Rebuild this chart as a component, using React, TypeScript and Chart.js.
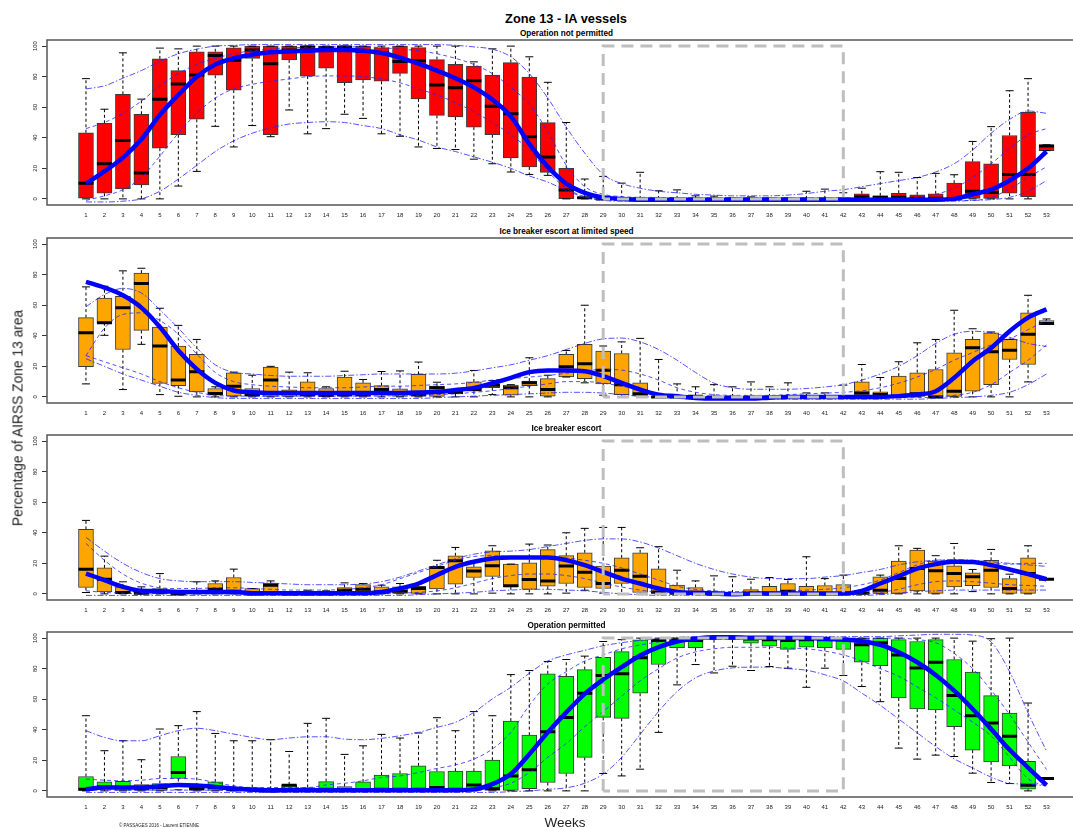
import React, { useEffect, useRef } from "react";
import { Chart, registerables } from "chart.js";

Chart.register(...registerables);

const FONT = '"Liberation Sans", Arial, Helvetica, sans-serif';

// ---------- categories / ticks ----------
const weeks = [
  1, 2, 3, 4, 5, 6, 7, 8, 9, 10, 11, 12, 13, 14, 15, 16, 17, 18, 19, 20,
  21, 22, 23, 24, 25, 26, 27, 28, 29, 30, 31, 32, 33, 34, 35, 36, 37, 38, 39, 40,
  41, 42, 43, 44, 45, 46, 47, 48, 49, 50, 51, 52, 53,
];
const yTicks = [0, 20, 40, 60, 80, 100];
const closedWeeks = [29, 42];
const closedRange = [0, 100];

// ---------- Panel 1 : Operation not permitted ----------
const p1Min = [0,0,0,0,0,8.4,18,47.5,34,48, 40.7,58.2,42.6,46,55.4,52.7,42.6,41,34,33, 32.3,26,23,17.6,16,15.4,0,0,0,0, 0,0,0,0,0,0,0,0,0,0, 0,0,0,0,0,0,0,0,0,0, 0,0,31.6];
const p1Q1 = [0.4,3.7,6.6,9.2,33.2,42,52.1,80.9,71.2,92, 42,91,80.4,85.5,76,77.8,77,82.2,65.5,54.7, 53.6,47,42,26.8,20.9,17.4,0.2,0,0,0, 0,0,0,0,0,0,0,0,0,0, 0,0,0.4,0,0,0,0,0,0,0, 3.7,1.5,31.6];
const p1Med = [10.3,23,38.2,16.9,65.3,75.2,81.1,93.8,90.8,97.4, 88.4,97.4,99.5,99,99.5,96.5,95.6,89.9,90.5,74.5, 72.7,77.4,60.7,55.8,40.7,27.5,5.9,0.7,0,0, 0,0,0,0,0,0,0,0,0,0, 0,0,1.3,1,1,0.5,0.5,0.2,5,4.2, 16,16,34.7];
const p1Q3 = [43.3,49.5,68.4,55.4,91.6,84,96.3,96.3,98.9,100, 100,100,100,100,100,100,99,100,99,91.2, 88,87,81,89.2,79.8,49.9,20,1,0,0, 0,0,0,0,0,0,0,0,0,0, 0,0,3.3,2,3.7,2.6,3.3,10.3,24.4,22.9, 41.5,56.7,35.4];
const p1Max = [78.7,58.7,95.6,65.3,98.7,98.2,100,100,100,100, 100,100,100,100,100,100,100,100,100,100, 100,89.7,98.2,100,93,76.3,50,13,14.7,10.3, 17.4,5.3,5.9,2,1.8,0.5,1.3,0.5,0.5,5, 6.4,4,7,17.8,17.4,14,16.7,15.8,37.6,47.3, 70.8,78.7,35.4];
const p1Fit = [10,18,27,39,55,68,80,88,92,94.5, 96,96.5,97,97.5,97.5,97,95.5,92.5,88.5,84, 79,73,65,54,36,21,10,4,1,0, -0.5,-0.5,-0.5,-0.5,-0.5,-0.5,-0.5,-0.5,-0.5,-0.5, -0.5,-0.5,-0.5,-0.5,-0.5,-0.5,-0.5,0,3,6, 12,20,31];
const p1Q90 = [72,74,79,84,90,95,98,100,100.5,101, 101,101,101,101,101,101,101,101,101,101, 100.5,99.5,98,93,82,66,47,30,16,10, 7,5,4,3,2.5,2,2,2,2.5,3.5, 5,6,8,10,12,14,17.6,23,32,43, 52,57.5,56];
const p1Q75 = [46,50,56,64,74,82,88,92,95,97, 98,99,99,99.5,99.5,99.5,99,98,97,95, 92,88,82,73,62,44,22,8,3,1.5, 1,1,0.5,0.5,0.5,0.5,0.5,0.5,0.5,0.5, 0.5,0.5,0.5,0.5,0.5,1,3,7,14,23, 33,42,46];
const p1Q25 = [-1,2,6,14,28,43,56,66,72,75, 77,78.5,80,80.5,80.5,80,78.5,76,72,68, 63,57,50,42,32,18,7,1.5,-0.5,-1, -1,-1,-1,-1,-1,-1,-1,-1,-1,-1, -1,-1,-1,-1,-1,-1,-1,-1,-1,1, 6.5,14,21];
const p1Q10 = [-2,-2,-1.5,0,5,13,22,31,38,43, 46.5,49,50,50.5,50,48,46,42,38.5,34, 31,27.5,24,20,15,11,5.5,1,-1,-1.5, -1.5,-1.5,-1.5,-1.5,-1.5,-1.5,-1.5,-1.5,-1.5,-1.5, -1.5,-1.5,-1.5,-1.5,-1.5,-1.5,-1.5,-1.5,-1,-0.5, 1,5,12];

// ---------- Panel 2 : Ice breaker escort at limited speed ----------
const p2Min = [8.5,40.3,4.8,34.4,1.5,0.4,0,0,0,0, 0,0,0,0,0,0,0,0,0,0, 0,0,1.5,0,0,0,13,9.2,1.1,0, 0,0,0,0,0,0,0,0,0,0, 0,0,0,0,0,0,0,0,0,0, 0,9.8,47.5];
const p2Q1 = [19.7,48.6,31,43.5,8.8,7.4,3.3,1.1,0.4,0, 0,0,0,0,0,0,1.1,0,0,0, 2,3.7,6,1.1,7.4,0.4,13,12,8.5,1.5, 0.5,0,0,0,0,0,0,0,0,0, 0,0,1.1,0,0,0,0,0,3.7,8, 24.5,21.2,47.5];
const p2Med = [42,48.6,58.4,74.2,33.3,11,16.4,2.2,7,1.5, 11,2.6,1.5,1.1,1.5,1.5,4.8,2.6,1.5,6, 2.8,4.8,7.7,6,9.2,4.8,19.7,21.7,17.5,8, 2,0,0,0.5,0,0,0,0,0,0, 0,0,2.6,1.5,0.5,2,0,3.7,32.2,29.5, 30.6,41,48];
const p2Q3 = [51.9,64.6,65.9,81,45.7,33.3,27.8,5.5,15.8,5.5, 19.5,4.6,9.8,5.5,13,9.2,7.4,5.3,14.7,7, 3.7,9.8,8.5,7.7,10.3,12,27.8,34.4,30,28.4, 9.2,0.5,0,1,0,0,0,0,0,0, 0,0,9.8,3.3,13.6,15.8,17.9,28.9,37.6,42, 37.6,55,50];
const p2Max = [72,72.4,82.5,84.2,58,46.8,37.6,6.6,16.2,14.2, 20,16.2,15.8,6.6,16.8,11.4,16.6,17,22.8,9.6, 3.7,17.3,10.7,8,25.6,14.2,30.4,60,33.3,36, 38.3,24.5,8.5,6.6,8,6.6,9.8,6.6,9.2,2.6, 2.6,7.7,21.2,12.7,23,35.4,37.6,56.7,44.6,42.5, 37.6,66.5,51];
const p2Fit = [75.3,71.5,66.5,58.4,45.7,30.4,18.2,9.2,4.2,3.1, 2.6,2.6,2.6,2.6,2.6,2.6,2.6,2.6,2.8,3.3, 4.5,5.9,9,12.5,16.2,17.3,17.3,16.8,13.6,9.2, 4.8,1.5,0.4,-0.7,-1.1,-1.1,-1.1,-0.5,0,0, 0,0,0,0,0.5,1.5,3.7,12.5,23.4,32, 43,51.9,57.3];
const p2Q90 = [59,67,71,68,57,45,32,21,16,15, 14,13.5,13.5,13.5,14,14.5,15,15,15,15, 15.5,17,19,21,24,27,31,35,38,38.5, 36,31,24,16,9,6,5,5,5,5.5, 6.5,8,11,15,20,27,35,41,43,42, 39,35,33];
const p2Q75 = [27,45,54,55,50,41,28,16,10,8, 7,6.5,6,6,6,6.5,7,7,7.5,8, 8.5,9.5,11,12,13,14,15.5,17,18,17.5, 15,11,6,3,1.5,1,1,1,1.5,2, 2.5,3,4,6,9,13,18,24,29,34, 38,44,50];
const p2Q25 = [27,23,19,15,10,6,3,1,0.5,0.5, 0.5,0.5,0.5,0.5,0.5,0.5,0.5,1,1,1.5, 2,3,4,5.5,7,8.5,10,10,9,7, 4.5,2,0.5,0,-0.5,-0.5,-0.5,-0.5,-0.5,-0.5, -0.5,-0.5,-0.5,-0.5,-0.5,-0.5,0,1,3,8, 16,24,34];
const p2Q10 = [25,20,15,11,7,3,1,-0.5,-1,-1, -1,-1,-1,-1,-1,-1,-1,-1,-1,-0.5, 0,0.5,1,1.5,2,2.5,3,3,2.5,1.5, 0.5,-0.5,-1,-1.5,-1.5,-1.5,-1.5,-1.5,-1.5,-1.5, -1.5,-1.5,-1.5,-1.5,-1.5,-1.5,-1,-0.5,0,1, 3,8,15];

// ---------- Panel 3 : Ice breaker escort ----------
const p3Min = [0.9,0,0,0,0,0,0,0,0,0, 0,0,0,0,0,0,0,0,0,0, 0,0,0.5,0,0,0,0.5,2.4,0.5,0, 0,0,0,0,0,0,0,0,0,0, 0,0,0,0,0,0,0,0,1.5,0, 0,0,9.6];
const p3Q1 = [4.2,1.3,0,0,0,0,0,0,0,0, 1.3,0,0,0,0,0,0,0,0,3.3, 6.3,10.7,11.4,4.6,3,5,6.8,4.2,3.5,6.8, 0.9,0,0,0,0,0,0,0,0,0, 0,0,0,0,0,2,0,4.6,5.3,4.2, 0,0,9.6];
const p3Med = [16.2,9.6,0.9,0.5,1.3,0,0.9,3,1.8,0, 5.7,0,0,0,2.4,3,1.3,1.8,3.5,17.3, 21.7,15,18.4,5.3,9.4,8.5,18.2,14.2,6.8,15.5, 11.6,1.3,0.5,0.5,0,0,0.2,0.5,1.8,0.5, 0.2,0.2,0.5,2.4,10,16.6,15.1,13.3,11.2,15.5, 3.5,13.3,9.6];
const p3Q3 = [42.2,17,4.6,2.4,3.5,0,2.4,6.8,10.7,3.5, 7,0,0,0,4.2,6.1,4.6,4.6,5,17.7, 24.9,17.7,28.2,19.5,20.4,29,25,26.9,18.2,23.6, 26.9,16.4,5.7,4.2,1.5,0.7,2.8,5,6.8,5, 5.5,6.1,2.4,11.2,21.4,28.7,21.4,18.4,13.8,21.9, 10,23.6,9.6];
const p3Max = [48.1,24.7,7.9,4.6,13.3,0,7.9,8.5,16.2,3.5, 8.5,0,2.4,2,7.2,6.8,5.7,6.8,6.8,22, 30.4,21.7,31.5,19.5,32.6,32,40,42.9,43.5,43.5, 30.2,30.9,15.5,8.5,11.8,11.2,9.6,10.7,9.4,24.3, 10,12.3,2.4,12.3,31.5,29.8,25,33,16,29.1, 12.9,31.5,9.6];
const p3Fit = [13.3,9,4.6,2,1.8,1.3,1.3,1.3,1.3,0.4, 0.4,0.4,0.4,0.4,0.4,0.4,1.3,3.5,6.8,12.3, 17.7,21,23.2,23.9,23.9,23.9,22.1,18.8,14.4,10, 6.8,3.5,1.3,0.7,0.2,-0.2,0.2,0.2,0.2,0.2, 0.2,0.2,2,6.8,11.6,16.6,19.5,21,20.8,18.8, 16,12.9,9.6];
const p3Q90 = [37,28,20,14,10,8.5,8,8,8,7.5, 7,6.5,6,6,6,6.5,8,11,15,19, 23,26,27.5,28,29,31,33,35,36,36, 34,30,25,20,16,13,11,10,10,10, 11,12,14,16,19,21,22,22.5,22,21, 20,19,18];
const p3Q75 = [33,22,13,7,4,3.5,3.5,4,4,3.5, 3,2.5,2.5,2.5,3,4,6,10,14,18, 22,24.5,25,24.5,24,24,23.5,22,20,17, 13,9,5,3,2,1.5,1.5,1.5,2,2.5, 3,4,6,9,14,19,22,22,21,20, 19.5,20,20];
const p3Q25 = [2,1,0.5,0,0,0,0,0,0,0, 0,0,0,0,0,0,0,0.5,1,2, 4,7,10,12,13,13,12,10,7,4.5, 2.5,1,0,0,0,0,0,0,0,0, 0,0,0,1,3,6,8,8.5,8,7, 6,5.5,5];
const p3Q10 = [-1,-1,-1,-1,-1,-1,-1,-1,-1,-1, -1,-1,-1,-1,-1,-1,-1,-1,-0.5,0, 0.5,1,2,2.5,3,3,2.5,2,1,0, -0.5,-1,-1,-1,-1,-1,-1,-1,-1,-1, -1,-1,-1,-0.5,0.5,1.5,2,2.5,2.5,2.5, 2.5,2.5,2.5];

// ---------- Panel 4 : Operation permitted ----------
const p4Min = [0,0,0,0,0,0.7,0,0,0,0, 0,0,0,0,0,0,0,0,0,0, 0,0,0,0,0,0,0,0,11.4,9.8, 14.2,38.3,69.4,82.7,77.2,81.6,78.8,81.4,80.3,67.8, 80.3,75.5,68.3,58.4,28,20.8,23.4,22.5,11.6,5.5, 4.8,0,8.1];
const p4Q1 = [0,1.1,0,0,0,8.1,0,0,0,0, 0,0,0,0,0,0,0,0,0,0, 0,0,0,0,1.5,5.5,11.4,21.9,48.1,47.5, 63.9,82.7,93.7,93.7,99,99,96.7,94.7,92.6,94.1, 93.7,92.6,84.2,82,60.8,53.6,53,42,26.7,19, 16.4,1.1,8.1];
const p4Med = [1.1,2.6,2.2,1.8,2.2,12,1.5,2.2,0.7,0.7, 0,3.7,0.7,1,0.5,0.5,1,1,1,2.2, 1,3.9,1.5,9.8,13.8,38.7,48.1,63.9,75.5,76.6, 87.1,98.5,98.5,98.5,100,100,99.5,99,98.5,99, 99,99,95.6,96.9,89,80.5,84.2,62.4,49.2,44.4, 35.7,3.7,8.1];
const p4Q3 = [9.4,5.9,6.3,4.2,4.8,22.5,3.3,5.9,2.2,2.2, 1.1,3.9,2.2,6.1,2.8,5.9,10.3,11.4,16.4,12.7, 12.9,12.9,20.1,45.7,36.5,76.6,75,79.4,87.5,91.2, 98.9,99.6,100,100,100,100,100,100,99.5,99.5, 99.5,99.5,100,100,99,97.8,99,86,77.7,62.4, 51,19.3,8.1];
const p4Max = [49.2,26.3,32.8,20.4,40.5,42.7,51.9,37.6,32.8,32.8, 33.5,25.8,44.2,47.5,23.9,29.5,37,34.6,37.9,47.9, 39.4,51.9,49.2,76.1,78.8,84.7,86,88.2,97.8,99, 100,100,100,100,100,100,100,100,100,100, 100,100,100,100,100,100,100,100,98,99.6, 100,57.5,8.1];
const p4Fit = [1.1,2.2,2.2,2.2,3,3.9,3.5,2.6,1.5,0.7, 0.5,0.5,0.5,0.5,0.5,0.5,0.5,0.5,0.5,0.5, 0.5,1,4.4,11,24,38.3,51.4,63.5,72.9,81, 88.6,94.1,97.8,99.6,100.5,100.5,100.2,100.2,100,100, 99.5,99,98,95.6,90.8,84.2,75.9,65.6,53.6,40.5, 26.9,15.3,3.7];
const p4Q90 = [39.4,35,32.8,32.8,36.1,39.4,41,39.4,37.2,35, 33.5,34.6,35.4,35.4,33.9,33.5,34.4,36.1,38.3,41.6, 44.9,51.4,60.2,67.8,77,85,89,92,95,97, 98.5,99.5,100.5,101,101,101,101,101,101,101, 101,101,101,101,101.5,102,102.5,102.5,102,97.5, 78,51,26];
const p4Q75 = [7.7,7,6.6,7,8.1,8.1,7.7,5.5,3.3,2.2, 2.2,2.2,2.2,3.9,5,6.6,8.8,9.8,12,14.7, 17,20.8,27.4,38.3,56,70,78,85,89,93, 95.5,97.5,98.5,99.5,100,100,100,100,100,100, 100,100,100,100,100,99,97,90,80,66, 50,32,14];
const p4Q25 = [0.5,0.5,0.5,0.5,0.5,0.5,0.5,0.5,0.5,0.5, 0.5,0.5,0.5,0.5,0.5,0.5,0.5,0.5,0.5,0.5, 0.5,0.5,2,5,12,22,31,42,52,62, 72,80,87,91,93,94,94,94,93.5,93, 91.5,89,85,80,75,68,61,53,45,36, 22,8,3];
const p4Q10 = [-1,-1,-1,-1,-1,-1,-1,-1,-1,-1, -1,-1,-1,-1,-1,-1,-1,-1,-1,-1, -1,-1,-1,-0.5,0,1,2,5,11,22, 37,52,65,74,78.5,80.5,81,81,80,79, 76,72,64,56,47,38,29,21,15,9, 5,4.4,3.3];

const PANELS = [
  { title: "Operation not permitted", top: 40, fill: "#FF0000", min: p1Min, q1: p1Q1, med: p1Med, q3: p1Q3, max: p1Max, fit: p1Fit, q90: p1Q90, q75: p1Q75, q25: p1Q25, q10: p1Q10 },
  { title: "Ice breaker escort at limited speed", top: 238, fill: "#FFA500", min: p2Min, q1: p2Q1, med: p2Med, q3: p2Q3, max: p2Max, fit: p2Fit, q90: p2Q90, q75: p2Q75, q25: p2Q25, q10: p2Q10 },
  { title: "Ice breaker escort", top: 435, fill: "#FFA500", min: p3Min, q1: p3Q1, med: p3Med, q3: p3Q3, max: p3Max, fit: p3Fit, q90: p3Q90, q75: p3Q75, q25: p3Q25, q10: p3Q10 },
  { title: "Operation permitted", top: 632, fill: "#00FF00", min: p4Min, q1: p4Q1, med: p4Med, q3: p4Q3, max: p4Max, fit: p4Fit, q90: p4Q90, q75: p4Q75, q25: p4Q25, q10: p4Q10 },
];

const PAD_TOP = 14;
const AXIS_W = 47;
const AXIS_H = 20;
const PLOT_H = 165;
const CANVAS_W = 1096;
const CANVAS_H = PAD_TOP + PLOT_H + AXIS_H;
const CENTER_X = 566.5;

const BAND = "rgba(35,35,255,0.78)";

const framePlugin = {
  id: "frame",
  afterDraw(chart: any) {
    const { ctx, chartArea: a } = chart;
    ctx.save();
    ctx.strokeStyle = "#555";
    ctx.lineWidth = 1.5;
    ctx.strokeRect(a.left, a.top, a.right - a.left, a.bottom - a.top);
    ctx.restore();
  },
};

function buildConfig(p: any): any {
  const pts = (arr: number[]) => weeks.map((w, i) => ({ x: w, y: arr[i] }));
  const box = weeks.map((w, i) => ({ x: w, y: [p.q1[i], p.q3[i]] }));
  const caps: any[] = [];
  const whisk: any[] = [];
  weeks.forEach((w, i) => {
    caps.push({ x: w, y: p.min[i] }, { x: w, y: p.max[i] });
    whisk.push(
      { x: w, y: p.q3[i] }, { x: w, y: p.max[i] }, { x: w, y: null },
      { x: w, y: p.q1[i] }, { x: w, y: p.min[i] }, { x: w, y: null }
    );
  });
  const rect = [
    { x: closedWeeks[0], y: closedRange[0] },
    { x: closedWeeks[0], y: closedRange[1] },
    { x: closedWeeks[1], y: closedRange[1] },
    { x: closedWeeks[1], y: closedRange[0] },
    { x: closedWeeks[0], y: closedRange[0] },
  ];
  const curve = (arr: number[], dash: number[], width: number, color: string, order: number) => ({
    type: "line",
    data: pts(arr),
    borderColor: color,
    borderWidth: width,
    borderDash: dash,
    pointRadius: 0,
    fill: false,
    cubicInterpolationMode: "monotone",
    order,
  });

  return {
    type: "bar",
    data: {
      datasets: [
        { type: "line", data: rect, borderColor: "#BEBEBE", borderWidth: 3, borderDash: [12, 7], pointRadius: 0, fill: false, tension: 0, order: 0 },
        curve(p.fit, [], 4.5, "#0000FF", 1),
        curve(p.q90, [6, 2, 1.5, 2], 1, BAND, 2),
        curve(p.q75, [4, 3], 1, BAND, 2),
        curve(p.q25, [4, 3], 1, BAND, 2),
        curve(p.q10, [6, 2, 1.5, 2], 1, BAND, 2),
        { type: "line", data: caps, showLine: false, pointStyle: "line", pointRadius: 4, pointBorderWidth: 1, pointBorderColor: "#000", borderColor: "#000", order: 3 },
        { type: "line", data: pts(p.med), showLine: false, pointStyle: "line", pointRadius: 7.5, pointBorderWidth: 3, pointBorderColor: "#000", borderColor: "#000", order: 4 },
        { type: "bar", data: box, backgroundColor: p.fill, borderColor: "#3a3a3a", borderWidth: 1, borderSkipped: false, barThickness: 15, grouped: false, order: 5 },
        { type: "line", data: whisk, borderColor: "#000", borderWidth: 1, borderDash: [3, 2.5], pointRadius: 0, spanGaps: false, fill: false, order: 6 },
      ],
    },
    options: {
      responsive: false,
      animation: false,
      devicePixelRatio: 1,
      events: [],
      layout: { padding: { top: PAD_TOP, left: 0, right: 0, bottom: 0 } },
      plugins: { legend: { display: false }, tooltip: { enabled: false }, title: { display: false } },
      scales: {
        x: {
          type: "linear",
          bounds: "data",
          min: -1.11,
          max: 55.11,
          offset: false,
          grid: { display: false, drawTicks: false, offset: false },
          border: { display: false },
          afterBuildTicks: (s: any) => { s.ticks = weeks.map((v) => ({ value: v })); },
          afterFit: (s: any) => {
            s.height = AXIS_H;
            s.paddingLeft = 0;
            s.paddingRight = 0;
          },
          ticks: {
            autoSkip: false, maxRotation: 0, minRotation: 0, padding: 7,
            font: { size: 6, family: FONT }, color: "#222",
            callback: (v: any) => String(v),
          },
        },
        y: {
          type: "linear",
          bounds: "data",
          min: -4,
          max: 104,
          grid: { display: true, drawOnChartArea: false, drawTicks: true, tickLength: 5, color: "#333", lineWidth: 1 },
          border: { display: false },
          afterBuildTicks: (s: any) => { s.ticks = yTicks.map((v) => ({ value: v })); },
          afterFit: (s: any) => {
            s.width = AXIS_W;
            s.paddingTop = 0;
            s.paddingBottom = 0;
          },
          ticks: {
            minRotation: 90, maxRotation: 90, crossAlign: "center", padding: 2,
            font: { size: 6, family: FONT }, color: "#222",
            callback: (v: any) => String(v),
          },
        },
      },
    },
    plugins: [framePlugin],
  };
}

const centered = (cx: number, cy: number): React.CSSProperties => ({
  position: "absolute",
  left: cx,
  top: cy,
  transform: "translate(-50%, -50%)",
  whiteSpace: "nowrap",
  lineHeight: 1,
  color: "#000",
});

function Panel({ cfg }: { cfg: any }) {
  const ref = useRef<HTMLCanvasElement>(null);
  useEffect(() => {
    if (!ref.current) return;
    const chart = new Chart(ref.current, buildConfig(cfg));
    return () => chart.destroy();
  }, [cfg]);
  return (
    <>
      <div style={{ ...centered(CENTER_X, cfg.top - 7.5), font: `bold 8.2px ${FONT}` }}>{cfg.title}</div>
      <canvas
        ref={ref}
        width={CANVAS_W}
        height={CANVAS_H}
        style={{ position: "absolute", left: 0, top: cfg.top - PAD_TOP, width: CANVAS_W, height: CANVAS_H, display: "block" }}
      />
    </>
  );
}

export default function App() {
  return (
    <div style={{ position: "fixed", left: 0, top: 0, width: 1073, height: 828, overflow: "hidden", background: "#fff" }}>
      <div style={{ ...centered(566, 18), font: `bold 12.8px ${FONT}` }}>Zone 13 - IA vessels</div>
      {PANELS.map((cfg) => (
        <Panel key={cfg.title} cfg={cfg} />
      ))}
      <div style={{ ...centered(18, 418), transform: "translate(-50%, -50%) rotate(-90deg)", font: `13.8px ${FONT}`, color: "#222" }}>
        Percentage of AIRSS Zone 13 area
      </div>
      <div style={{ ...centered(565, 822), font: `13.5px ${FONT}`, color: "#222" }}>Weeks</div>
      <div style={{ ...centered(159, 825), font: `4.5px ${FONT}`, color: "#222" }}>© PASSAGES 2016 - Laurent ETIENNE</div>
    </div>
  );
}
